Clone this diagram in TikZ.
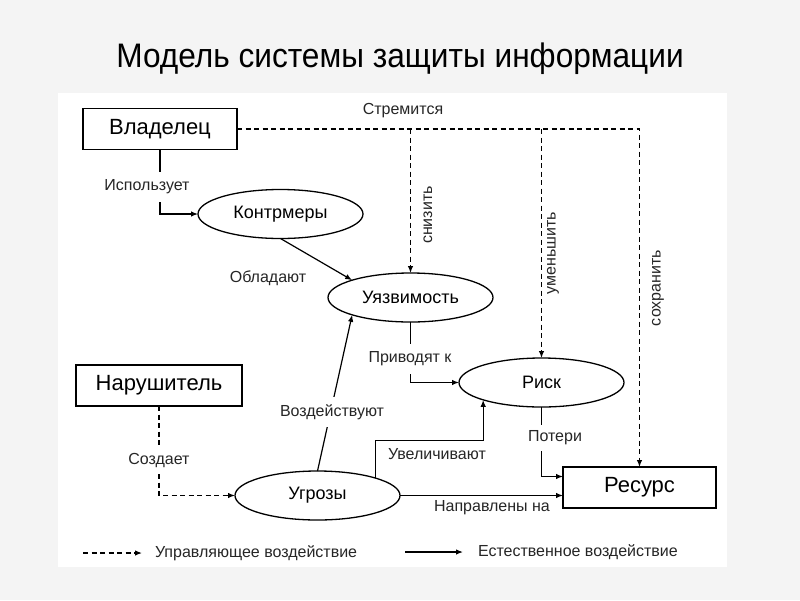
\documentclass[tikz,border=0pt]{standalone}
\usepackage{fontspec}
\setmainfont{Liberation Sans}
\usetikzlibrary{arrows.meta,shapes.geometric}
\definecolor{bgc}{HTML}{F4F4F4}
\begin{document}
\begin{tikzpicture}[x=1pt,y=-1pt,
  every node/.style={inner sep=0pt, outer sep=0pt},
  boxnode/.style={draw, line width=1.3pt, font=\fontsize{22}{24}\selectfont, minimum height=41pt},
  ellnode/.style={draw, ellipse, line width=1.3pt, minimum width=165pt, minimum height=49pt, font=\fontsize{18}{20}\selectfont},
  lbl/.style={font=\fontsize{16}{18}\selectfont, text=black!85},
  lblw/.style={lbl, fill=white, inner xsep=1pt},
  tip/.style={-{Latex[length=7pt,width=5.5pt]}},
  natline/.style={line width=1.2pt, tip},
  ctlline/.style={line width=1.2pt, dash pattern=on 5pt off 3.5pt, tip}
]
\fill[bgc] (0,0) rectangle (800,600);
\fill[white] (58,93) rectangle (727,567);
\useasboundingbox (0,0) rectangle (800,600);

% title
\node[anchor=base, font=\fontsize{34}{38}\selectfont] (title) at (400,67) {\scalebox{0.93}[1]{Модель системы защиты информации}};

% boxes
\node[boxnode, minimum width=154pt] (vl) at (160,129) {Владелец};
\node[boxnode, minimum width=166pt] (nr) at (159,385.5) {Нарушитель};
\node[boxnode, minimum width=153pt] (rs) at (639.5,487.5) {Ресурс};

% ellipses
\node[ellnode] (km) at (280.5,214) {Контрмеры};
\node[ellnode] (uz) at (410.5,297.5) {Уязвимость};
\node[ellnode] (rk) at (541.5,382.5) {Риск};
\node[ellnode] (ug) at (317.5,495.5) {Угрозы};

% owner dashed lines
\draw[ctlline] (vl.east) -| (rs.north);
\draw[ctlline] (uz.north |- vl.east) -- (uz.north);
\draw[ctlline] (rk.north |- vl.east) -- (rk.north);
\node[lbl] (l-str) at (403,111) {Стремится};
\node[lbl, rotate=90] (l-sn) at (428,215) {снизить};
\node[lbl, rotate=90] (l-um) at (553,253) {уменьшить};
\node[lbl, rotate=90] (l-so) at (658,288) {сохранить};

% natural links
\draw[natline] (vl.south) |- (km.west);
\node[lblw, inner ysep=7.5pt] (l-isp) at (147,187) {Использует};

\draw[natline] (km.south) -- (uz.north west);
\node[lbl] (l-obl) at (268,278) {Обладают};

\draw[natline] (ug.north) -- (uz.south west);
\node[lblw, inner ysep=7pt] (l-vozd) at (332,412) {Воздействуют};

\draw[natline] (uz.south) |- (rk.west);
\node[lblw, inner ysep=7.5pt] (l-priv) at (410,359) {Приводят к};

\draw[natline] (ug.north east) -- ++(0,-38) -| (rk.south west);
\node[lbl] (l-uvel) at (437,454) {Увеличивают};

\draw[natline] (rk.south) |- ([yshift=11pt]rs.west);
\node[lblw, inner ysep=5.5pt] (l-pot) at (555,438) {Потери};

\draw[natline] (ug.east) -- (rs.west |- ug.east);
\node[lbl] (l-napr) at (492,508) {Направлены на};

% violator
\draw[ctlline] (nr.south) |- (ug.west);
\node[lblw, inner ysep=4.5pt] (l-sozd) at (159,460) {Создает};

% legend
\coordinate (lg1) at (83,553);
\coordinate (lg2) at (142,553);
\coordinate (lg3) at (405,552);
\coordinate (lg4) at (463,552);
\draw[ctlline] (lg1) -- (lg2);
\node[lbl, anchor=west] (lg-ctl) at (155,553) {Управляющее воздействие};
\draw[natline] (lg3) -- (lg4);
\node[lbl, anchor=west] (lg-nat) at (478,552) {Естественное воздействие};
\end{tikzpicture}
\end{document}
